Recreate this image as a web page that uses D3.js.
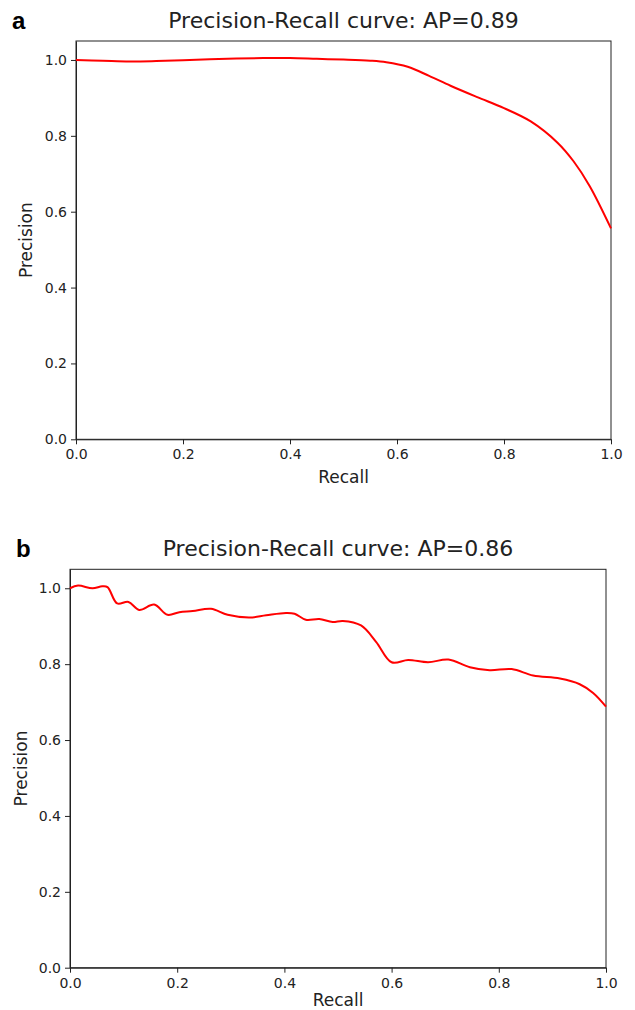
<!DOCTYPE html>
<html>
<head>
<meta charset="utf-8">
<script src="https://cdn.jsdelivr.net/npm/d3@7"></script>
<style>
  body { margin: 0; background: #fff; }
  svg { display: block; }
  .tick text { font-family: "DejaVu Sans", sans-serif; font-size: 14px; fill: #222; }
  .tick line, .domain { stroke: #222; }
</style>
</head>
<body>
<svg id="chart" width="635" height="1010"></svg>
<script>
// panel a
var recallA = [0, 0.05, 0.1, 0.15, 0.2, 0.25, 0.3, 0.35, 0.4, 0.45, 0.5, 0.55, 0.58, 0.62, 0.66, 0.7, 0.75, 0.8, 0.85, 0.9, 0.93, 0.96, 1.0];
var precisionA = [1.0, 0.998, 0.996, 0.997, 0.999, 1.002, 1.004, 1.005, 1.005, 1.003, 1.001, 0.998, 0.994, 0.982, 0.958, 0.932, 0.902, 0.873, 0.838, 0.782, 0.733, 0.668, 0.556];

// panel b
var recallB = [0, 0.015, 0.042, 0.06, 0.07, 0.088, 0.109, 0.129, 0.157, 0.182, 0.204, 0.229, 0.263, 0.294, 0.335, 0.366, 0.403, 0.419, 0.44, 0.465, 0.49, 0.509, 0.543, 0.571, 0.6, 0.631, 0.668, 0.706, 0.746, 0.783, 0.824, 0.864, 0.914, 0.951, 0.976, 1.0];
var precisionB = [1.0, 1.007, 1.0, 1.005, 1.003, 0.96, 0.964, 0.943, 0.957, 0.930, 0.937, 0.94, 0.946, 0.93, 0.923, 0.929, 0.935, 0.933, 0.917, 0.919, 0.911, 0.914, 0.902, 0.859, 0.805, 0.811, 0.805, 0.812, 0.792, 0.784, 0.787, 0.77, 0.762, 0.747, 0.724, 0.688];

var tickValues = [0, 0.2, 0.4, 0.6, 0.8, 1.0];
var titles = ["Precision-Recall curve: AP=0.89", "Precision-Recall curve: AP=0.86"];
var panelLetters = ["a", "b"];

var svg = d3.select("#chart");

function drawPanel(box, xs, ys, title, letter) {
    var x = d3.scaleLinear().domain([0, 1]).range([box.left, box.right]);
    var y = d3.scaleLinear().domain([0, 1.05]).range([box.bottom, box.top]);
    var g = svg.append("g");

    g.append("rect")
        .attr("x", box.left).attr("y", box.top)
        .attr("width", box.right - box.left).attr("height", box.bottom - box.top)
        .attr("fill", "none").attr("stroke", "#222").attr("stroke-width", 1);

    g.append("g")
        .attr("transform", "translate(0," + box.bottom + ")")
        .call(d3.axisBottom(x).tickValues(tickValues).tickFormat(d3.format(".1f")).tickSize(5).tickPadding(5).tickSizeOuter(0));

    g.append("g")
        .attr("transform", "translate(" + box.left + ",0)")
        .call(d3.axisLeft(y).tickValues(tickValues).tickFormat(d3.format(".1f")).tickSize(5).tickPadding(4).tickSizeOuter(0));

    var line = d3.line()
        .x(function (d, i) { return x(xs[i]); })
        .y(function (d, i) { return y(ys[i]); })
        .curve(d3.curveCatmullRom.alpha(0.5));

    g.append("path")
        .datum(xs)
        .attr("d", line)
        .attr("fill", "none")
        .attr("stroke", "#ff0000")
        .attr("stroke-width", 2);

    g.append("text")
        .attr("x", (box.left + box.right) / 2).attr("y", box.top - 13)
        .attr("text-anchor", "middle")
        .style("font-family", "DejaVu Sans").style("font-size", "22px").style("fill", "#222")
        .text(title);

    g.append("text")
        .attr("x", box.letterX).attr("y", box.top - 12)
        .style("font-family", "Liberation Sans").style("font-weight", "bold").style("font-size", "24px")
        .text(letter);

    g.append("text")
        .attr("x", (box.left + box.right) / 2).attr("y", box.bottom + box.xlabDy)
        .attr("text-anchor", "middle")
        .style("font-family", "DejaVu Sans").style("font-size", "17px").style("fill", "#222")
        .text("Recall");

    g.append("text")
        .attr("transform", "translate(" + box.ylabX + "," + (box.top + box.bottom) / 2 + ") rotate(-90)")
        .attr("text-anchor", "middle")
        .style("font-family", "DejaVu Sans").style("font-size", "17px").style("fill", "#222")
        .text("Precision");
}

drawPanel({left: 76, right: 611, top: 41, bottom: 439.3, letterX: 12, ylabX: 32, xlabDy: 44}, recallA, precisionA, titles[0], panelLetters[0]);
drawPanel({left: 70, right: 606, top: 569.3, bottom: 967.7, letterX: 16, ylabX: 27, xlabDy: 38}, recallB, precisionB, titles[1], panelLetters[1]);
</script>
</body>
</html>
